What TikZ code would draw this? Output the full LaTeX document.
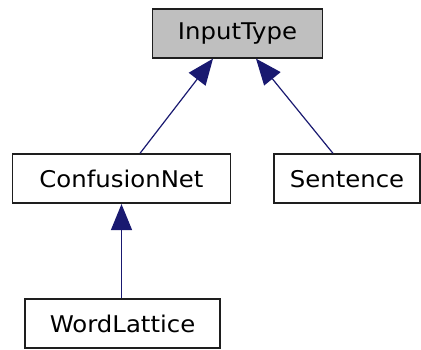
\documentclass[tikz,border=0pt]{standalone}
\usepackage{fontspec}
\setmainfont{DejaVu Sans}[FakeStretch=1.06]
\usetikzlibrary{arrows.meta}
\definecolor{edgeblue}{RGB}{25,25,112}
\definecolor{basefill}{RGB}{191,191,191}
\definecolor{boxline}{RGB}{30,30,30}
\begin{document}
\begin{tikzpicture}[x=1pt,y=-1pt,
  classbox/.style={draw=boxline, line width=1.7pt, fill=white,
    minimum height=49pt, inner sep=0pt, text=black,
    font=\fontsize{23}{28}\selectfont},
  inherit/.style={draw=edgeblue, line width=1.2pt,
    -{Triangle[length=26pt,width=21pt]}, color=edgeblue}]
\useasboundingbox (0,0) rectangle (421,349);

\node[classbox, fill=basefill, minimum width=170pt] (it) at (237.5,33.3) {InputType};
\node[classbox, minimum width=218pt] (cn) at (121.5,178.7) {ConfusionNet};
\node[classbox, minimum width=146pt] (se) at (347,178.7) {Sentence};
\node[classbox, minimum width=195pt] (wl) at (122.5,323.8) {WordLattice};

\draw[inherit] ([xshift=18.5pt]cn.north) -- ([xshift=-24.5pt]it.south);
\draw[inherit] ([xshift=-14pt]se.north) -- ([xshift=18.5pt]it.south);
\draw[inherit] ([xshift=-1pt]wl.north) -- (cn.south);
\end{tikzpicture}
\end{document}
